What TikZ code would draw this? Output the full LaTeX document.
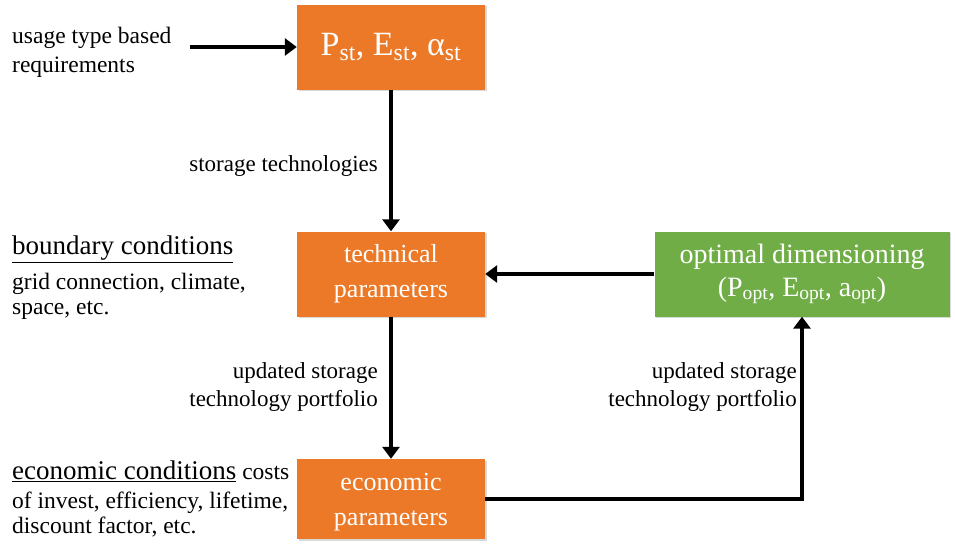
\documentclass[tikz,border=0pt]{standalone}
\usepackage{fontspec}
\setmainfont{Liberation Serif}
\usepackage{tikz}
\usetikzlibrary{arrows.meta, positioning, calc, shadows}
\definecolor{boxorange}{RGB}{235,121,40}
\definecolor{boxgreen}{RGB}{112,173,71}
\tikzset{block/.style={rectangle,fill=boxorange,text=white,align=center,minimum width=188pt,minimum height=85pt,inner sep=2pt,font=\fontsize{26}{35}\selectfont,drop shadow={opacity=0.3,shadow xshift=1.5pt,shadow yshift=-1.5pt}},
         resultblock/.style={block,fill=boxgreen,minimum width=295pt,font=\fontsize{28}{33}\selectfont},
         sidetext/.style={align=left,anchor=north west,inner sep=0pt,font=\fontsize{23.5}{25}\selectfont},
         flowtext/.style={align=right,inner sep=0pt,font=\fontsize{23}{28}\selectfont},
         arrow/.style={-{Triangle[length=12pt,width=17pt]},line width=4pt}}

\begin{document}
\begin{tikzpicture}[x=1pt,y=-1pt]
    \useasboundingbox (0,0) rectangle (955,546);
    % Boxes
    \node (req) [block, font=\fontsize{34}{38}\selectfont] at (391,47) {P\textsubscript{st}, E\textsubscript{st}, α\textsubscript{st}};
    \node (tech) [block] at (391,274) {technical\\parameters};
    \node (econ) [block, minimum height=80pt] at (391,499) {\rule{0pt}{24pt}economic\\parameters};
    \node (opt) [resultblock] at (802,274) {optimal dimensioning\\(P\textsubscript{opt}, E\textsubscript{opt}, a\textsubscript{opt})};
    % Side texts
    \node (usage) [sidetext, font=\fontsize{23.5}{29}\selectfont] at (12,27) {usage type based\\requirements};
    \node (bound) [sidetext] at (12,236) {{\fontsize{27}{28}\selectfont\underline{boundary conditions}}\\[10pt]grid connection, climate,\\space, etc.};
    \node (econcond) [sidetext] at (12,461) {{\fontsize{27}{28}\selectfont\underline{economic conditions}} costs\\[4pt]of invest, efficiency, lifetime,\\discount factor, etc.};
    % Arrow labels
    \node (stortech) [flowtext, anchor=base east] at (378,171) {storage technologies};
    \node (upd1) [flowtext, anchor=north east] at (378,362) {updated storage\\technology portfolio};
    \node (upd2) [flowtext, anchor=north east] at (797,362) {updated storage\\technology portfolio};
    % Connectors
    \coordinate (start) at (190,47);
    \draw[arrow] (start) -- (req.west);
    \draw[arrow] (req.south) -- (tech.north);
    \draw[arrow] (tech.south) -- (econ.north);
    \draw[arrow] (opt.west) -- (tech.east);
    \draw[arrow] (econ.east) -| (opt.south);
  \end{tikzpicture}
\end{document}
